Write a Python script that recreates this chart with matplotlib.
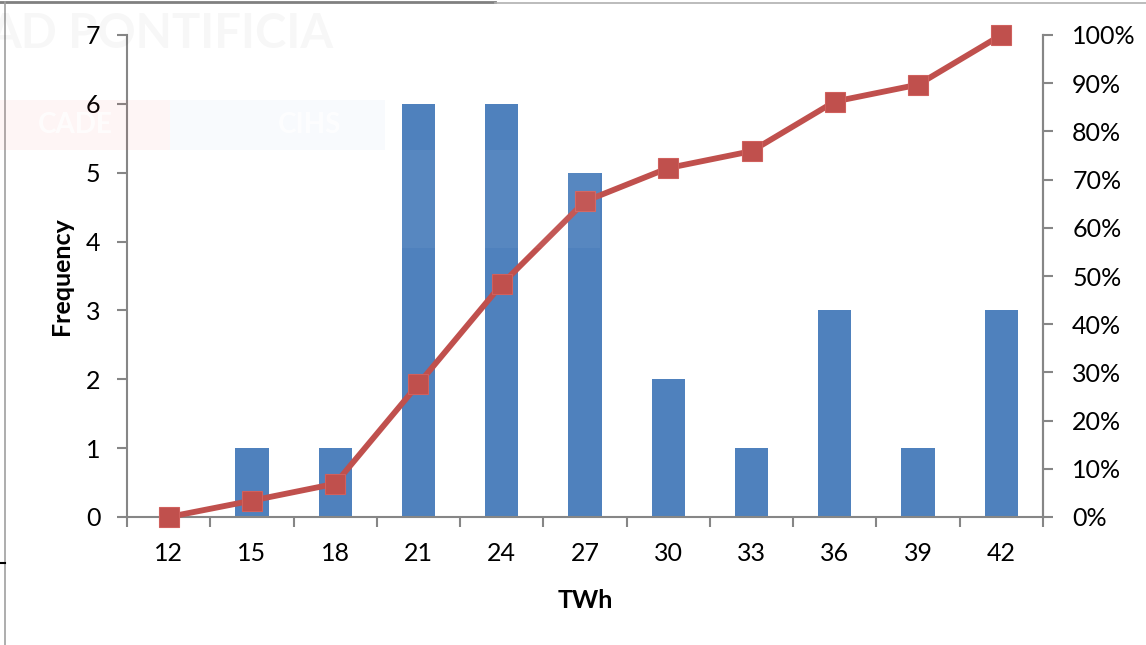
import matplotlib.pyplot as plt
import numpy as np
from matplotlib.lines import Line2D
from matplotlib.patches import Rectangle
from matplotlib.ticker import PercentFormatter

plt.rcParams['font.family'] = ['Lato', 'DejaVu Sans']

bins = ['12', '15', '18', '21', '24', '27', '30', '33', '36', '39', '42']
frequency = [0, 1, 1, 6, 6, 5, 2, 1, 3, 1, 3]
cumulative = [0.0, 0.034, 0.069, 0.276, 0.483, 0.655, 0.724, 0.759, 0.862, 0.897, 1.0]

bar_color = '#4F81BD'
line_color = '#C0504D'
axis_gray = '#868686'

fig = plt.figure(figsize=(11.46, 6.45), dpi=100)
ax = fig.add_axes([127 / 1146, 1 - 517 / 645, 916 / 1146, 482 / 645])
ax2 = ax.twinx()

x = np.arange(len(bins))
ax.bar(x, frequency, width=0.4, color=bar_color, zorder=2)
ax2.plot(x, cumulative, color=line_color, linewidth=4.2, marker='s',
         markersize=14.5, markerfacecolor=line_color, markeredgecolor='#D0605D',
         markeredgewidth=0.8, clip_on=False, zorder=3)

ax.set_xlim(-0.5, len(bins) - 0.5)
ax.set_ylim(0, 7)
ax2.set_ylim(0, 1)

ax.set_xticks(x)
ax.set_xticklabels(bins)
ax.set_xticks(np.arange(-0.5, len(bins)), minor=True)
ax.tick_params(axis='x', which='major', length=0, pad=18, labelsize=18)
ax.tick_params(axis='x', which='minor', length=7, width=1.5, color=axis_gray, direction='out')
ax.set_yticks(range(0, 8))
ax.tick_params(axis='y', length=7, width=1.5, color=axis_gray, direction='out',
               labelsize=18, pad=12)

ax2.set_yticks(np.arange(0, 1.01, 0.1))
ax2.yaxis.set_major_formatter(PercentFormatter(1.0, decimals=0))
ax2.tick_params(axis='y', length=7, width=1.5, color=axis_gray, direction='out',
                labelsize=18, pad=14)

for a in (ax, ax2):
    a.spines['top'].set_visible(False)
    for side in ('left', 'right', 'bottom'):
        a.spines[side].set_color(axis_gray)
        a.spines[side].set_linewidth(1.5)
ax2.spines['left'].set_visible(False)
ax2.spines['bottom'].set_visible(False)

ax.set_xlabel('TWh', fontsize=18, fontweight='bold', labelpad=17)
ax.set_ylabel('Frequency', fontsize=18, fontweight='bold', labelpad=9)

# faint watermark behind the screenshot
fig.text(-0.01, 0.948, 'AD PONTIFICIA', fontsize=34, fontweight='bold',
         color='#000000', alpha=0.03, va='center', ha='left', zorder=5)
fig.patches.append(Rectangle((0, 1 - 150 / 645), 170 / 1146, 50 / 645,
                             transform=fig.transFigure, color='#F04040', alpha=0.05,
                             linewidth=0, zorder=5))
fig.patches.append(Rectangle((170 / 1146, 1 - 150 / 645), 215 / 1146, 50 / 645,
                             transform=fig.transFigure, color='#4080E0', alpha=0.035,
                             linewidth=0, zorder=5))
fig.patches.append(Rectangle((385 / 1146, 1 - 248 / 645), 215 / 1146, 98 / 645,
                             transform=fig.transFigure, color='#FFFFFF', alpha=0.05,
                             linewidth=0, zorder=5))
fig.text(75 / 1146, 1 - 125 / 645, 'CADE', fontsize=20, fontweight='bold',
         color='white', alpha=0.8, ha='center', va='center', zorder=6)
fig.text(310 / 1146, 1 - 125 / 645, 'CIHS', fontsize=20, fontweight='bold',
         color='white', alpha=0.8, ha='center', va='center', zorder=6)

# window frame edges
fig.add_artist(Line2D([0, 495 / 1146], [1 - 2 / 645, 1 - 2 / 645],
                      transform=fig.transFigure, color='#808080', linewidth=2))
fig.add_artist(Line2D([495 / 1146, 1], [1 - 3 / 645, 1 - 3 / 645],
                      transform=fig.transFigure, color='#B0B0B0', linewidth=1.2))
fig.add_artist(Line2D([5 / 1146, 5 / 1146], [0, 1 - 2 / 645],
                      transform=fig.transFigure, color='#A0A0A0', linewidth=1.2))
fig.add_artist(Line2D([0, 5 / 1146], [1 - 563 / 645, 1 - 563 / 645],
                      transform=fig.transFigure, color='black', linewidth=1.5))

fig.savefig('out.png', dpi=100)
